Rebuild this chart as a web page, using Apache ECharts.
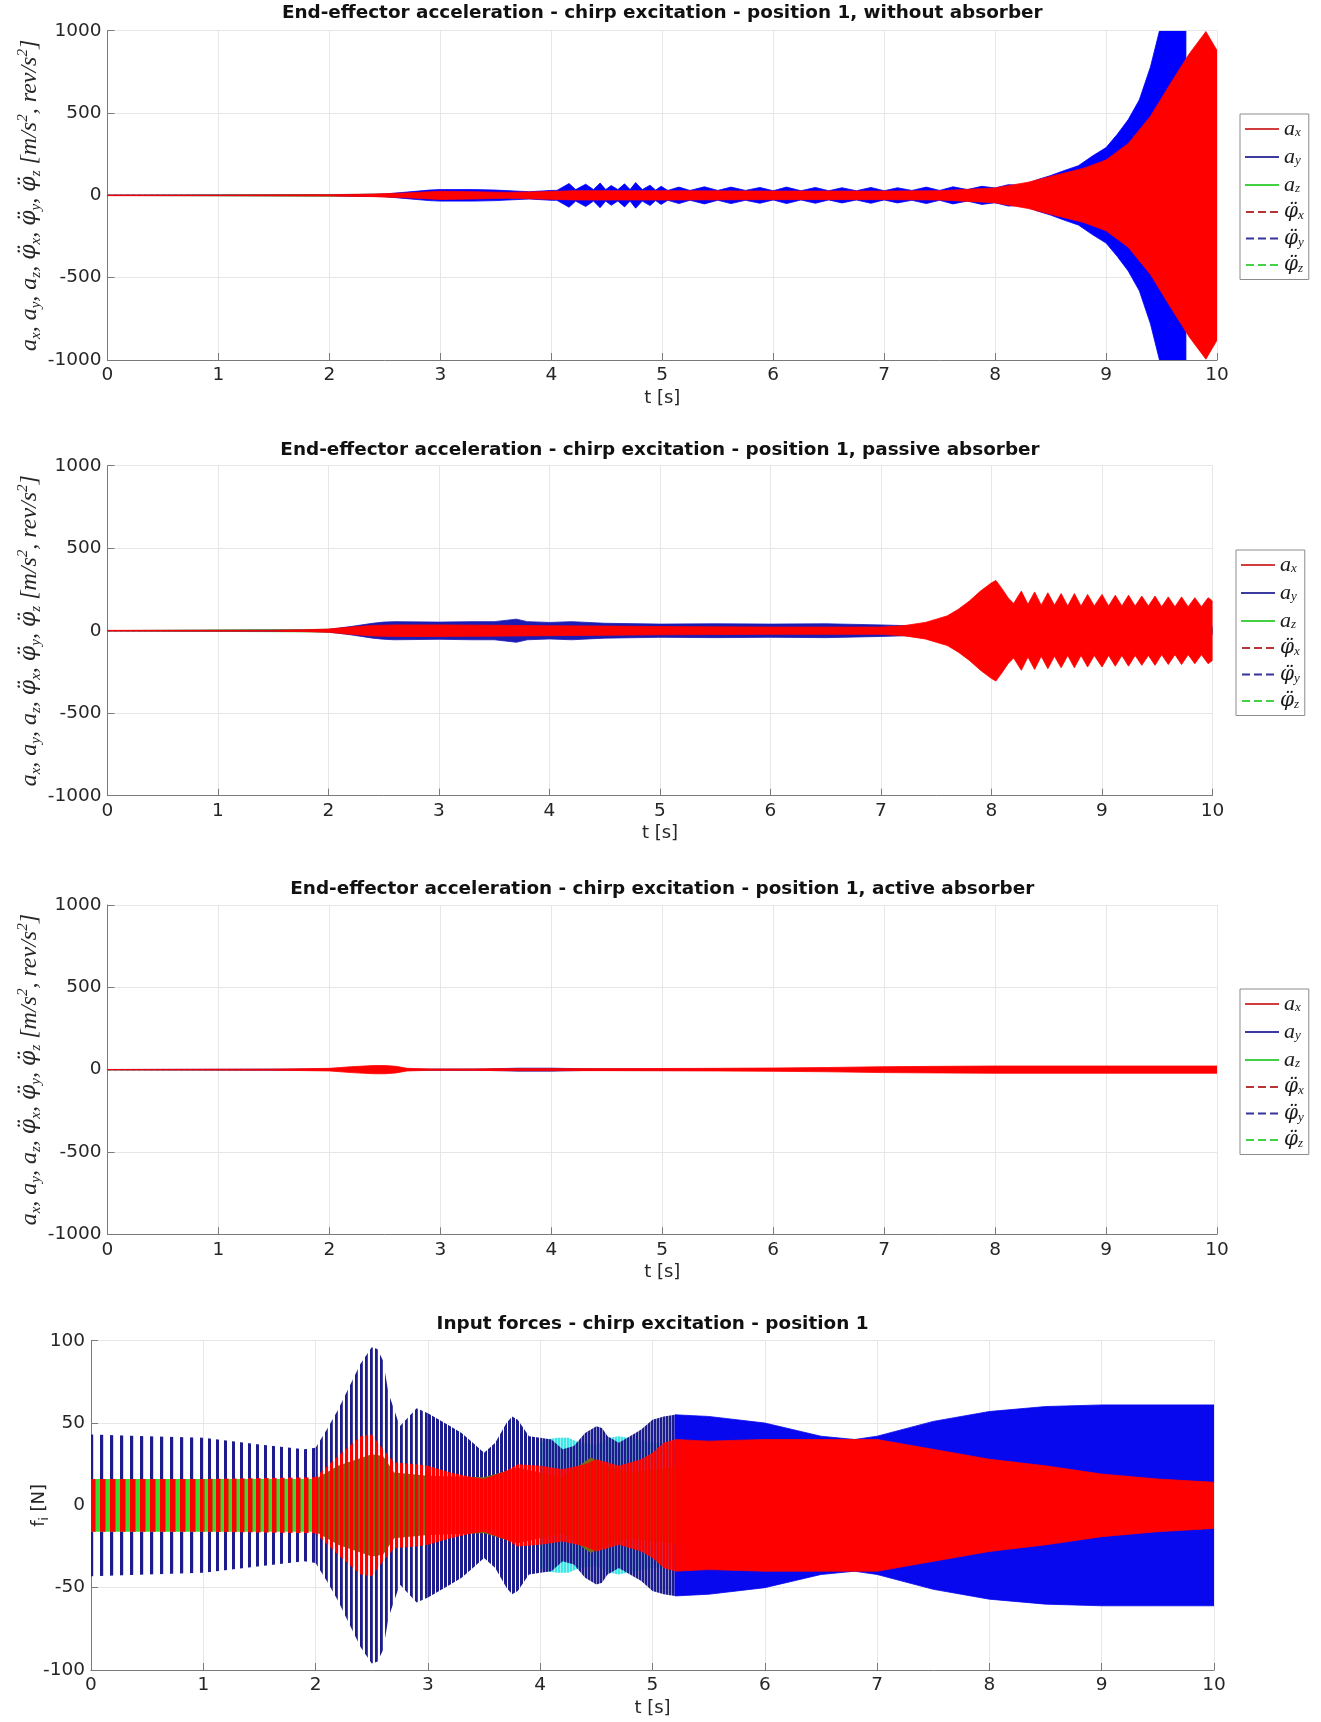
<!DOCTYPE html>
<html>
<head>
<meta charset="utf-8">
<script src="https://cdn.jsdelivr.net/npm/echarts@6/dist/echarts.min.js"></script>
<style>
  html, body { margin: 0; padding: 0; background: #fff; }
  #chart { width: 1321px; height: 1722px; }
</style>
</head>
<body>
<div id="chart"></div>
<script>
// envelope amplitudes (+/-), time in s

// panel 1 - without absorber
const p1T_ax = [0, 1, 2, 2.4, 2.7, 3, 3.3, 3.6, 3.9, 4.2, 5, 6, 7, 7.5, 8, 8.3, 8.5, 8.8, 9.0, 9.2, 9.4, 9.6, 9.75, 9.9, 10];
const p1_ax = [2, 2, 4, 8, 15, 25, 22, 18, 22, 28, 28, 26, 26, 28, 45, 80, 115, 165, 215, 315, 480, 700, 860, 995, 880];
const p1T_ay = [0, 2, 2.5, 2.7, 2.9, 3.0, 3.3, 3.5, 3.8, 4.0, 4.05, 4.16, 4.22, 4.31, 4.38, 4.44, 4.49, 4.54, 4.6, 4.66, 4.71, 4.76, 4.82, 4.89, 4.94, 4.99,
  5.05, 5.15, 5.25, 5.38, 5.5, 5.62, 5.75, 5.88, 6.0, 6.12, 6.25, 6.38, 6.5, 6.62, 6.75, 6.88, 7.0, 7.12, 7.25, 7.38, 7.5, 7.62, 7.75, 7.88,
  8.0, 8.12, 8.25, 8.38, 8.5, 8.62, 8.75, 8.88, 9.0, 9.1, 9.2, 9.3, 9.4, 9.5, 9.6, 9.72];
const p1_ay = [1, 2, 8, 20, 32, 35, 35, 32, 22, 30, 30, 72, 35, 68, 35, 75, 35, 60, 35, 70, 35, 78, 35, 62, 32, 55,
  30, 50, 30, 52, 30, 50, 30, 48, 28, 50, 28, 48, 28, 46, 28, 48, 28, 46, 30, 50, 30, 52, 35, 55,
  45, 65, 60, 95, 120, 150, 180, 240, 290, 370, 460, 580, 780, 1050, 1400, 1400];
const p1T_az = [0, 3, 4, 5, 6, 7, 8, 10];
const p1_az = [0.5, 8, 15, 18, 15, 12, 10, 20];

// panel 2 - passive absorber
const p2T_ax = [0, 1.5, 1.8, 2.0, 2.2, 2.4, 2.6, 3.0, 3.5, 4.0, 4.5, 5.0, 6.0, 7.0, 7.2, 7.4, 7.5, 7.6, 7.7, 7.8,
  7.9, 8.0, 8.04, 8.1, 8.15, 8.2, 8.27, 8.33, 8.39, 8.45, 8.51, 8.57, 8.63, 8.69, 8.75, 8.81,
  8.87, 8.93, 9.0, 9.06, 9.12, 9.18, 9.24, 9.3, 9.36, 9.42, 9.48, 9.54, 9.6, 9.66, 9.72, 9.78, 9.84, 9.9, 9.96, 10];
const p2_ax = [2, 3, 6, 10, 22, 32, 35, 35, 33, 30, 28, 25, 22, 22, 30, 50, 70, 90, 130, 180,
  240, 290, 305, 250, 200, 165, 240, 160, 235, 155, 230, 155, 225, 150, 225, 150,
  220, 150, 220, 150, 215, 150, 215, 150, 210, 150, 210, 145, 205, 145, 205, 145, 200, 145, 200, 180];
const p2T_ay = [0, 1.8, 2.0, 2.2, 2.4, 2.5, 2.6, 3.0, 3.3, 3.5, 3.7, 3.8, 4.0, 4.2, 4.5, 5.0, 5.5, 6.0, 6.5, 7.0, 7.5, 8.0, 10];
const p2_ay = [1, 4, 8, 25, 45, 52, 55, 52, 55, 55, 70, 55, 50, 55, 45, 40, 42, 40, 42, 35, 25, 25, 25];
const p2T_az = [0, 2.5, 4, 6, 6.5, 7, 7.2, 10];
const p2_az = [0.5, 10, 12, 15, 20, 18, 15, 15];

// panel 3 - active absorber
const p3T_ax = [0, 1.5, 2.0, 2.2, 2.4, 2.5, 2.6, 2.7, 2.9, 3.3, 3.5, 4.0, 4.5, 5.0, 5.5, 6.0, 6.5, 7.0, 7.5, 8.0, 9.0, 10];
const p3_ax = [1, 3, 8, 18, 25, 25, 20, 8, 4, 4, 6, 6, 6, 7, 8, 10, 13, 18, 20, 22, 22, 22];
const p3T_ay = [0, 2.0, 2.4, 2.7, 3.4, 3.7, 4.0, 4.3, 5, 10];
const p3_ay = [1, 4, 8, 3, 4, 9, 9, 5, 4, 4];
const p3T_az = [0, 10];
const p3_az = [0.5, 3];

// the phi traces stay at zero on this scale
const phiT = [0, 10];
const phiV = [0, 0];

// panel 4 - input forces
const f4T_blue = [0, 0.5, 1.0, 1.5, 1.9, 2.0, 2.1, 2.2, 2.3, 2.4, 2.5, 2.55, 2.6, 2.65, 2.75, 2.9, 3.0, 3.1, 3.2, 3.3,
  3.4, 3.5, 3.6, 3.7, 3.75, 3.8, 3.9, 4.0, 4.1, 4.2, 4.3, 4.4, 4.5, 4.55, 4.6, 4.7, 4.8, 4.9, 5.0, 5.1,
  5.2, 5.5, 6.0, 6.5, 6.8, 7.0, 7.5, 8.0, 8.5, 9.0, 9.5, 10];
const f4_blue = [43, 42, 41, 37, 34, 35, 46, 58, 72, 86, 96, 95, 88, 68, 48, 59, 56, 52, 48, 44,
  38, 32, 38, 50, 54, 52, 42, 41, 40, 34, 36, 44, 48, 47, 42, 38, 42, 46, 52, 54,
  55, 54, 50, 42, 40, 42, 51, 57, 60, 61, 61, 61];
const f4T_red = [0, 1.0, 2.0, 2.2, 2.4, 2.5, 2.6, 2.7, 2.9, 3.0, 3.2, 3.4, 3.5, 3.7, 3.8, 4.0, 4.2, 4.4, 4.5, 4.6,
  4.7, 4.9, 5.0, 5.1, 5.2, 5.5, 6.0, 6.5, 7.0, 7.5, 8.0, 8.5, 9.0, 9.5, 10];
const f4_red = [16, 16, 17, 30, 42, 43, 34, 26, 25, 24, 20, 17, 16, 21, 25, 24, 22, 25, 28, 26,
  24, 28, 32, 38, 40, 39, 40, 40, 40, 34, 28, 24, 19, 16, 14];
const f4T_green = [0, 1.0, 2.0, 2.2, 2.5, 2.6, 2.7, 3.0, 3.5, 3.8, 4.0, 4.2, 4.45, 4.6, 4.8, 5.0, 5.2, 5.5, 6.0, 6.5, 7.0, 8.0, 9.0, 10];
const f4_green = [16, 16, 16, 24, 31, 30, 20, 18, 17, 23, 20, 17, 29, 24, 20, 22, 23, 25, 25, 22, 20, 15, 12, 10];
const f4T_cyan = [0, 1.0, 2.0, 3.0, 3.5, 3.9, 4.0, 4.05, 4.15, 4.25, 4.35, 4.5, 4.62, 4.7, 4.78, 5.0, 5.2, 5.5, 10];
const f4_cyan = [15, 15, 18, 22, 25, 36, 38, 40, 41, 41, 38, 37, 41, 42, 41, 38, 37, 35, 30];

const titles = [
  'End-effector acceleration - chirp excitation - position 1, without absorber',
  'End-effector acceleration - chirp excitation - position 1, passive absorber',
  'End-effector acceleration - chirp excitation - position 1, active absorber',
  'Input forces - chirp excitation - position 1'
];

const RED = '#ff0000';
const GREEN = '#33dd33';
const SANS = '"DejaVu Sans", "Liberation Sans", sans-serif';
const SERIF = '"Liberation Serif", "DejaVu Serif", serif';
const PHIFONT = '"DejaVu Serif", serif';

// vertical stripes, to look like the dense oscillation lines
function stripes(color, period, w) {
  const c = document.createElement('canvas');
  c.width = period;
  c.height = 4;
  const ctx = c.getContext('2d');
  ctx.fillStyle = color;
  ctx.fillRect(0, 0, w, 4);
  return { image: c, repeat: 'repeat' };
}

// filled band between -amp and +amp, drawn as one polygon through the axes
function band(name, g, T, A, o) {
  const lw = o.lw == null ? 0.8 : o.lw;
  return {
    type: 'custom', name: name, coordinateSystem: 'cartesian2d',
    xAxisIndex: g, yAxisIndex: g, clip: true, silent: true, animation: false, z: 2,
    data: T.map((t, i) => [t, A[i]]),
    encode: { x: 0, y: 1 },
    renderItem: function (params, api) {
      if (params.dataIndex !== 0) return null;
      const up = T.map((t, i) => api.coord([t, A[i]]));
      const lo = T.map((t, i) => api.coord([t, -A[i]])).reverse();
      const cs = params.coordSys;
      return {
        type: 'group',
        clipPath: { type: 'rect', shape: { x: cs.x, y: cs.y, width: cs.width, height: cs.height } },
        children: [{
          type: 'polygon',
          shape: { points: up.concat(lo) },
          style: { fill: o.fill || o.color, stroke: lw ? o.color : null, lineWidth: lw }
        }]
      };
    }
  };
}

function seg(T, A, t0, t1) {
  const t = [], a = [];
  T.forEach((v, i) => { if (v >= t0 && v <= t1) { t.push(v); a.push(A[i]); } });
  return [t, a];
}

function phi(name, g, color) {
  return {
    type: 'line', name: name, xAxisIndex: g, yAxisIndex: g, z: 1, symbol: 'none', animation: false, silent: true,
    data: phiT.map((t, i) => [t, phiV[i]]),
    lineStyle: { color: color, width: 1, type: 'dashed' }
  };
}

const series = [];
// panels 1-3
const accPanels = [
  [p1T_ax, p1_ax, p1T_ay, p1_ay, p1T_az, p1_az, '#0000ff'],
  [p2T_ax, p2_ax, p2T_ay, p2_ay, p2T_az, p2_az, '#1c1cb4'],
  [p3T_ax, p3_ax, p3T_ay, p3_ay, p3T_az, p3_az, '#2a2ab0']
];
accPanels.forEach((p, g) => {
  series.push(phi('px', g, '#b03030'), phi('py', g, '#303098'), phi('pz', g, '#44cc44'));
  series.push(band('az', g, p[4], p[5], { color: GREEN }));
  series.push(band('ay', g, p[2], p[3], { color: p[6] }));
  series.push(band('ax', g, p[0], p[1], { color: RED }));
});

// panel 4: chirp gets denser with time, so stripes get narrower
// [t0, t1, period, blue width, red width]
const segs = [
  [0, 1.0, 10, 3.2, 5.5],
  [1.0, 2.0, 8, 3, 4.5],
  [2.0, 3.0, 5, 2.8, 3.1],
  [3.0, 4.0, 4, 3, 3.4],
  [4.0, 5.2, 3, 2.5, 2.7]
];
const NAVY = '#1c1c8c';
function striped(name, T, A, color, wIdx, solidColor, solidLw) {
  segs.forEach(s => {
    const [t, a] = seg(T, A, s[0], s[1]);
    series.push(band(name, 3, t, a, { color: color, fill: stripes(color, s[2], s[wIdx]), lw: 0 }));
  });
  const [t, a] = seg(T, A, 5.2, 10);
  series.push(band(name, 3, t, a, { color: solidColor, lw: solidLw }));
}
striped('f4', f4T_cyan, f4_cyan, '#3ee6e6', 3, '#3ee6e6', 0);
striped('f2', f4T_blue, f4_blue, NAVY, 3, '#0808ee', 0.8);
(function () {
  // green mixes with the red lines: bright early, darker once both get dense
  let [t, a] = seg(f4T_green, f4_green, 0, 2.0);
  series.push(band('f3', 3, t, a, { color: GREEN, lw: 0 }));
  [t, a] = seg(f4T_green, f4_green, 2.0, 10);
  series.push(band('f3', 3, t, a, { color: '#7a6a18', lw: 0 }));
})();
striped('f1', f4T_red, f4_red, RED, 4, RED, 0.8);

// layout
const grids = [
  { left: 107.5, top: 30.7, width: 1109.5, height: 329.3 },
  { left: 107.5, top: 465.7, width: 1105, height: 330 },
  { left: 107.5, top: 905, width: 1109.5, height: 329.3 },
  { left: 91, top: 1340.7, width: 1123, height: 329.3 }
];
const titleY = [15, 452, 891, 1326];

const AX = '#7a7a7a';
const lbl = { margin: 6, fontSize: 18.5, color: '#262626', fontFamily: SANS, formatter: v => String(v) };

const xAxes = grids.map((g, i) => ({
  gridIndex: i, type: 'value', min: 0, max: 10, interval: 1,
  axisLine: { show: true, onZero: false, lineStyle: { color: AX } },
  axisTick: { show: true, inside: true, length: 7, lineStyle: { color: AX } },
  axisLabel: lbl,
  splitLine: { show: true, lineStyle: { color: '#e6e6e6' } },
  name: 't [s]', nameLocation: 'middle', nameGap: 29,
  nameTextStyle: { fontSize: 18, color: '#262626', fontFamily: SANS }
}));

const subRich = {
  i: { fontFamily: SERIF, fontStyle: 'italic', fontSize: 24, lineHeight: 28, color: '#262626' },
  f: { fontFamily: PHIFONT, fontStyle: 'italic', fontSize: 22, lineHeight: 28, color: '#262626' },
  s: { fontFamily: SERIF, fontStyle: 'italic', fontSize: 15, lineHeight: 12, verticalAlign: 'bottom', color: '#262626' },
  p: { fontFamily: SERIF, fontStyle: 'italic', fontSize: 15, lineHeight: 12, verticalAlign: 'top', color: '#262626' }
};
const PHI = '\u03C6\u0308';
const accName = '{i|a}{s|x}{i|, a}{s|y}{i|, a}{s|z}{i|, }{f|' + PHI + '}{s|x}{i|, }{f|' + PHI + '}{s|y}{i|, }{f|' + PHI +
  '}{s|z}{i| [m/s}{p|2}{i|, rev/s}{p|2}{i|]}';

const yAxes = grids.map((g, i) => {
  const force = i === 3;
  return {
    gridIndex: i, type: 'value',
    min: force ? -100 : -1000, max: force ? 100 : 1000, interval: force ? 50 : 500,
    axisLine: { show: true, onZero: false, lineStyle: { color: AX } },
    axisTick: { show: true, inside: true, length: 7, lineStyle: { color: AX } },
    axisLabel: lbl,
    splitLine: { show: true, lineStyle: { color: '#e6e6e6' } },
    name: force ? '{n|f}{t|i}{n| [N]}' : accName,
    nameLocation: 'middle', nameGap: force ? 40 : 64, nameMoveOverlap: false,
    nameTextStyle: force ? {
      rich: {
        n: { fontFamily: SANS, fontSize: 18, lineHeight: 24, color: '#262626' },
        t: { fontFamily: SANS, fontSize: 12, lineHeight: 10, verticalAlign: 'bottom', color: '#262626' }
      }
    } : { rich: subRich }
  };
});

const SOLID = 'path://M0,0H34V2H0Z';
const DASH = 'path://M0,0H8V2H0Z M12,0H20V2H12Z M24,0H32V2H24Z';
const LEG = {
  ax: '{i|a}{s|x}', ay: '{i|a}{s|y}', az: '{i|a}{s|z}',
  px: '{f|' + PHI + '}{s|x}', py: '{f|' + PHI + '}{s|y}', pz: '{f|' + PHI + '}{s|z}'
};
const legendItems = [
  { name: 'ax', icon: SOLID, itemStyle: { color: '#d23c3c' } },
  { name: 'ay', icon: SOLID, itemStyle: { color: '#3c3ca0' } },
  { name: 'az', icon: SOLID, itemStyle: { color: '#44d044' } },
  { name: 'px', icon: DASH, itemStyle: { color: '#b83434' } },
  { name: 'py', icon: DASH, itemStyle: { color: '#34349c' } },
  { name: 'pz', icon: DASH, itemStyle: { color: '#44d044' } }
];
const legendPos = [[1240, 114], [1236, 550], [1240, 989]];
const legends = legendPos.map(p => ({
  orient: 'vertical', left: p[0], top: p[1],
  padding: [4, 5, 4, 5], itemGap: 6, itemWidth: 34, itemHeight: 2,
  borderColor: '#8c8c8c', borderWidth: 1, backgroundColor: '#fff',
  selectedMode: false,
  data: legendItems,
  formatter: n => LEG[n],
  textStyle: {
    rich: {
      i: { fontFamily: SERIF, fontStyle: 'italic', fontSize: 22, lineHeight: 21, color: '#1a1a1a' },
      f: { fontFamily: PHIFONT, fontStyle: 'italic', fontSize: 20, lineHeight: 21, color: '#1a1a1a' },
      s: { fontFamily: SERIF, fontStyle: 'italic', fontSize: 13, lineHeight: 9, verticalAlign: 'bottom', color: '#1a1a1a' }
    }
  }
}));

const option = {
  backgroundColor: '#fff',
  animation: false,
  title: titles.map((t, i) => ({
    text: t,
    left: grids[i].left + grids[i].width / 2,
    top: titleY[i] - 11,
    textAlign: 'center',
    padding: 0,
    textStyle: { fontSize: 18.4, fontWeight: 'bold', fontFamily: SANS, color: '#111' }
  })),
  legend: legends,
  grid: grids.map(g => Object.assign({ containLabel: false, outerBoundsMode: 'none' }, g)),
  xAxis: xAxes,
  yAxis: yAxes,
  series: series
};

const chart = echarts.init(document.getElementById('chart'));
chart.setOption(option);
</script>
</body>
</html>
